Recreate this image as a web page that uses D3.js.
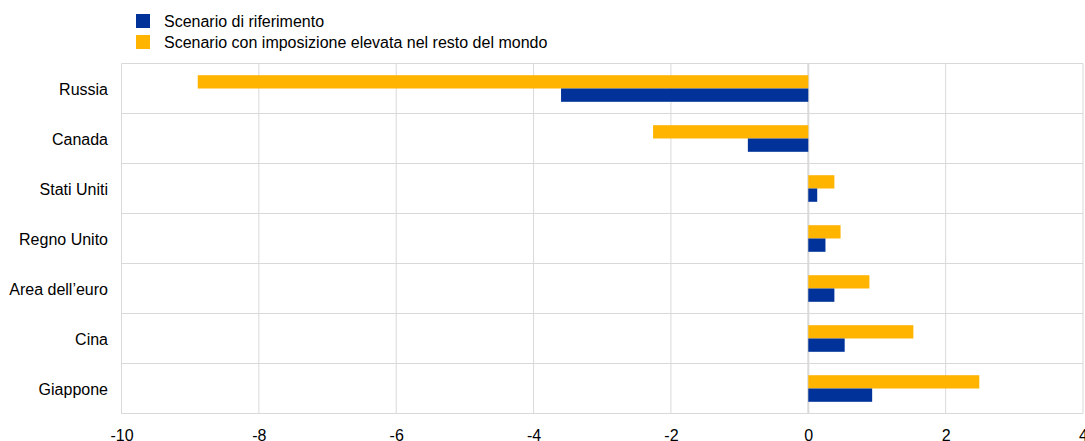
<!DOCTYPE html>
<html><head><meta charset="utf-8">
<script src="https://cdn.jsdelivr.net/npm/d3@7/dist/d3.min.js"></script>
<style>body{margin:0;background:#fff}svg{display:block;font-family:"Liberation Sans",Arial,sans-serif}</style>
</head><body><svg id="c" width="1085" height="441"></svg>
<script>
const categories = ["Russia","Canada","Stati Uniti","Regno Unito","Area dell\u2019euro","Cina","Giappone"];
const seriesNames = ["Scenario di riferimento","Scenario con imposizione elevata nel resto del mondo"];
const baseline = [-3.60,-0.88,0.13,0.25,0.38,0.53,0.93];
const highTax = [-8.89,-2.26,0.38,0.47,0.89,1.53,2.49];
const xTicks = [-10,-8,-6,-4,-2,0,2,4];
const colors = ["#003299","#FFB400"];

(function(){
const svg = d3.select("#c");
const pL = 121.5, pR = 1083, pT = 63.5, pB = 413.5;
const x = d3.scaleLinear().domain([-10,4]).range([pL,pR]);
const y = d3.scaleBand().domain(categories).range([pT,pB]);
const grid = "#d9d9d9";

svg.append("g").selectAll("line").data(xTicks).join("line")
  .attr("x1",d=>x(d)).attr("x2",d=>x(d)).attr("y1",pT).attr("y2",pB)
  .attr("stroke",grid).attr("stroke-width",d=>d===0?2:1);
const hs = categories.map(c=>y(c)).concat([pB]);
svg.append("g").selectAll("line").data(hs).join("line")
  .attr("x1",pL).attr("x2",pR).attr("y1",d=>d).attr("y2",d=>d)
  .attr("stroke",grid).attr("stroke-width",1);

const bh = 13.3;
const series = [highTax, baseline];
const scols = [colors[1], colors[0]];
series.forEach((vals,si)=>{
  svg.append("g").selectAll("rect").data(vals).join("rect")
    .attr("x",d=>x(Math.min(0,d)))
    .attr("width",d=>Math.abs(x(d)-x(0)))
    .attr("y",(d,i)=>y(categories[i])+y.bandwidth()/2-bh+si*bh)
    .attr("height",bh)
    .attr("fill",scols[si]);
});

svg.append("g").selectAll("text").data(categories).join("text")
  .attr("x",108).attr("y",d=>y(d)+y.bandwidth()/2)
  .attr("dy","0.38em").attr("text-anchor","end")
  .attr("font-size",16).attr("fill","#000").text(d=>d);

const ax = d3.axisBottom(x).tickValues(xTicks).tickSize(0).tickPadding(0).tickFormat(d=>String(d));
const g = svg.append("g").attr("transform",`translate(0,${pB})`).call(ax);
g.select(".domain").remove();
g.selectAll("text").attr("font-size",16).attr("font-family","Liberation Sans, Arial, sans-serif")
  .attr("fill","#000").attr("dy",0).attr("y",27);

const lg = svg.append("g");
seriesNames.forEach((n,i)=>{
  lg.append("rect").attr("x",136).attr("y",14+i*21).attr("width",14).attr("height",14).attr("fill",colors[i]);
  lg.append("text").attr("x",164).attr("y",21+i*21).attr("dy","0.36em")
    .attr("font-size",16).attr("fill","#000").text(n);
});
})();
</script></body></html>
